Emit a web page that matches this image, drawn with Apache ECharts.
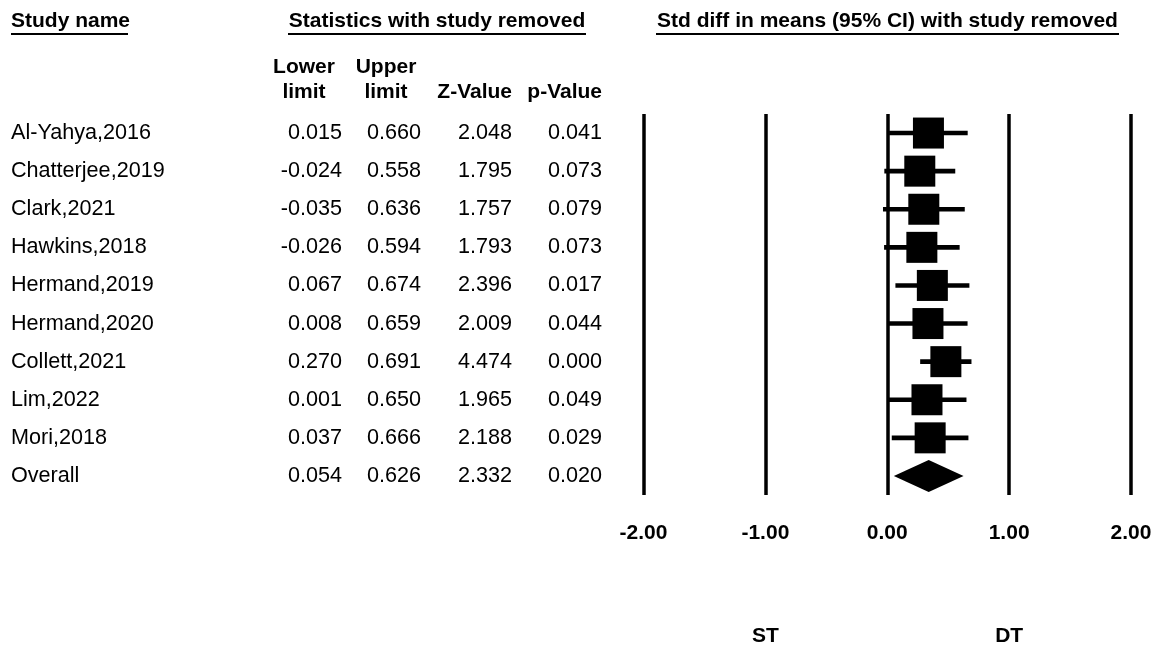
<!DOCTYPE html>
<html><head><meta charset="utf-8">
<script src="https://cdn.jsdelivr.net/npm/echarts@6/dist/echarts.min.js"></script>
<style>html,body{margin:0;padding:0;background:#fff}#c{width:1170px;height:652px}</style>
</head><body><div id="c"></div>
<script>
const studies = ['Al-Yahya,2016','Chatterjee,2019','Clark,2021','Hawkins,2018','Hermand,2019','Hermand,2020','Collett,2021','Lim,2022','Mori,2018','Overall'];
const lowerLimit = [0.015,-0.024,-0.035,-0.026,0.067,0.008,0.270,0.001,0.037,0.054];
const upperLimit = [0.660,0.558,0.636,0.594,0.674,0.659,0.691,0.650,0.666,0.626];
const zValue = [2.048,1.795,1.757,1.793,2.396,2.009,4.474,1.965,2.188,2.332];
const pValue = [0.041,0.073,0.079,0.073,0.017,0.044,0.000,0.049,0.029,0.020];
const estimate = [0.338,0.267,0.300,0.284,0.370,0.334,0.481,0.326,0.352,0.340];
const xMin = -2, xMax = 2, xStep = 1;
const favourLabels = {'-1':'ST','1':'DT'};

const FONT = 'Liberation Sans, Arial, Helvetica, sans-serif';
const FS = 21;
const FS_BODY = 21.6;
const gridLeft = 643.5;

function colAxis(values, rightEdge, fmt, alignLeft){
  return {
    type:'category', gridIndex:0, inverse:true, position:'left',
    data: studies, offset: gridLeft - rightEdge,
    axisLine:{show:false}, axisTick:{show:false}, splitLine:{show:false},
    axisLabel:{interval:0, margin:0, align: alignLeft ? 'left' : 'right',
      color:'#000', fontSize:FS_BODY, fontFamily:FONT,
      formatter:(v,i)=> fmt(values[i])}
  };
}

const chart = echarts.init(document.getElementById('c'), null, {renderer:'canvas'});
const seriesData = studies.map((s,i)=>[lowerLimit[i], upperLimit[i], estimate[i], i]);

const txt = (text,x,y,align,bold)=>({type:'text', silent:true, style:{text, x, y, textAlign:align, textVerticalAlign:'middle', fill:'#000', fontSize:FS, fontWeight: bold?'bold':'normal', fontFamily:FONT}});
const uline = (x1,x2,y)=>({type:'line', silent:true, shape:{x1,y1:y,x2,y2:y}, style:{stroke:'#000', lineWidth:2}});

chart.setOption({
  animation:false,
  backgroundColor:'#fff',
  grid:{left:gridLeft, right:39, top:114, bottom:157, containLabel:false, outerBoundsMode:'none'},
  xAxis:[{
    type:'value', min:xMin, max:xMax, interval:xStep,
    axisLine:{show:false}, axisTick:{show:false},
    splitLine:{show:true, lineStyle:{color:'#000', width:3.5}},
    axisLabel:{showMinLabel:true, showMaxLabel:true, margin:28, color:'#000', fontSize:FS, fontWeight:'bold', fontFamily:FONT,
      formatter:v=>v.toFixed(2)}
  },{
    type:'value', min:xMin, max:xMax, interval:xStep, position:'bottom',
    axisLine:{show:false}, axisTick:{show:false}, splitLine:{show:false},
    axisLabel:{showMinLabel:true, showMaxLabel:true, margin:131, color:'#000', fontSize:FS, fontWeight:'bold', fontFamily:FONT,
      formatter:v=> favourLabels[String(v)] || ''}
  }],
  yAxis:[
    colAxis(studies, 11, v=>v, true),
    colAxis(lowerLimit, 342, v=>v.toFixed(3)),
    colAxis(upperLimit, 421, v=>v.toFixed(3)),
    colAxis(zValue, 512, v=>v.toFixed(3)),
    colAxis(pValue, 602, v=>v.toFixed(3))
  ],
  series:[{
    type:'custom', xAxisIndex:0, yAxisIndex:0,
    encode:{x:[0,1,2], y:3},
    data: seriesData,
    renderItem:(params, api)=>{
      const row = api.value(3);
      const lo = api.coord([api.value(0), row]);
      const hi = api.coord([api.value(1), row]);
      const c = api.coord([api.value(2), row]);
      const y = c[1];
      if (studies[params.dataIndex] === 'Overall') {
        return {type:'polygon', shape:{points:[[lo[0],y],[c[0],y-16],[hi[0],y],[c[0],y+16]]}, style:{fill:'#000'}};
      }
      const b = 31;
      return {type:'group', children:[
        {type:'rect', shape:{x:lo[0], y:y-2.3, width:hi[0]-lo[0], height:4.6}, style:{fill:'#000'}},
        {type:'rect', shape:{x:c[0]-b/2, y:y-b/2, width:b, height:b}, style:{fill:'#000'}}
      ]};
    }
  }],
  graphic:[
    txt('Study name', 11, 21, 'left', true),
    uline(11, 128, 34),
    txt('Statistics with study removed', 437, 21, 'center', true),
    uline(288, 586, 34),
    txt('Std diff in means (95% CI) with study removed', 887.5, 21, 'center', true),
    uline(656, 1119, 34),
    txt('Lower', 304, 67, 'center', true),
    txt('limit', 304, 92, 'center', true),
    txt('Upper', 386, 67, 'center', true),
    txt('limit', 386, 92, 'center', true),
    txt('Z-Value', 512, 92, 'right', true),
    txt('p-Value', 602, 92, 'right', true)
  ]
});
</script></body></html>
